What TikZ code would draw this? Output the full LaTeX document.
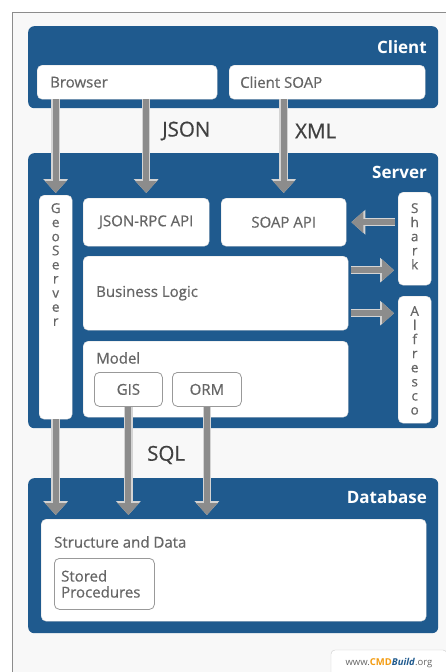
\documentclass[tikz,border=0pt]{standalone}
\usepackage{fontspec}
\setmainfont{Open Sans}
\newfontfamily\medfont{Open Sans}[FakeBold=0.6]
\usetikzlibrary{arrows.meta}
\definecolor{cblue}{HTML}{1F5A8E}
\definecolor{arrgray}{HTML}{8C8C8C}
\definecolor{arredge}{HTML}{D4D4D4}
\definecolor{txtgray}{HTML}{666666}
\definecolor{bggray}{HTML}{F8F8F8}
\definecolor{cmdorange}{HTML}{F39C12}
\begin{document}
\begin{tikzpicture}[x=1pt,y=-1pt,
 layer/.style={fill=cblue, rounded corners=6pt, anchor=north west, inner sep=0pt},
 wbox/.style={fill=white, draw=black!15, rounded corners=5pt, anchor=north west, inner sep=0pt},
 ibox/.style={fill=white, draw=black!40, line width=0.8pt, rounded corners=5pt, anchor=north west, inner sep=0pt},
 head/.style={text=white, font=\fontsize{17}{20}\selectfont\bfseries, anchor=east, inner sep=0pt},
 btxt/.style={text=txtgray, font=\medfont\fontsize{15}{16}\selectfont, inner sep=0pt},
 proto/.style={text=black!75, font=\medfont\fontsize{20.5}{22}\selectfont, anchor=west, inner sep=0pt},
 vtxt/.style={text=txtgray, font=\medfont\fontsize{13.5}{14.1}\selectfont, align=center, anchor=north, inner sep=0pt},
 flow/.style={draw=arrgray, line width=6pt, -{Triangle[width=21pt,length=12pt]},
   preaction={draw=arredge, line width=8.5pt, -{Triangle[width=24pt,length=14pt]}}},
]
\useasboundingbox (0,0) rectangle (445,672);
\fill[bggray] (12,12) rectangle (446,673);
\draw[black!45, line width=1pt] (12,673) -- (12,12) -- (446,12);

% Client layer
\node[layer, minimum width=410pt, minimum height=82pt] (client) at (28,26) {};
\node[head] (clientlbl) at (427,47) {Client};
\node[wbox, minimum width=180pt, minimum height=34pt] (browser) at (37,65) {};
\node[btxt, anchor=west] (browserlbl) at ([xshift=13pt]browser.west) {Browser};
\node[wbox, minimum width=196pt, minimum height=34pt] (csoap) at (229,65) {};
\node[btxt, anchor=west] (csoaplbl) at ([xshift=11pt]csoap.west) {Client SOAP};

% Server layer
\node[layer, minimum width=410pt, minimum height=275pt] (server) at (28,153) {};
\node[head] (serverlbl) at (427,172) {Server};
\node[wbox, minimum width=33pt, minimum height=224pt] (geo) at (39,195) {};
\node[vtxt] (geolbl) at ([yshift=-8pt]geo.north) {G\\e\\o\\S\\e\\r\\v\\e\\r};
\node[wbox, minimum width=126pt, minimum height=48pt, btxt] (json) at (83,198) {JSON-RPC API};
\node[wbox, minimum width=125pt, minimum height=48pt, btxt] (soap) at (221,198) {SOAP API};
\node[wbox, minimum width=33pt, minimum height=93pt] (shark) at (398,192) {};
\node[vtxt] (sharklbl) at ([yshift=-11pt]shark.north) {S\\h\\a\\r\\k};
\node[wbox, minimum width=33pt, minimum height=127pt] (alf) at (398,296) {};
\node[vtxt] (alflbl) at ([yshift=-10pt]alf.north) {A\\l\\f\\r\\e\\s\\c\\o};
\node[wbox, minimum width=265pt, minimum height=74pt] (bl) at (83,256) {};
\node[btxt, anchor=west] (bllbl) at ([xshift=13pt]bl.west) {Business Logic};
\node[wbox, minimum width=265pt, minimum height=76pt] (model) at (83,341) {};
\node[btxt, anchor=west] (modellbl) at (96,358) {Model};
\node[ibox, minimum width=68pt, minimum height=34pt, btxt] (gis) at (94,372) {GIS};
\node[ibox, minimum width=69pt, minimum height=34pt, btxt] (orm) at (172,372) {ORM};

% protocol labels
\node[proto] (jsonlbl) at (162,131) {JSON};
\node[proto] (xmllbl) at (295,131) {XML};
\node[proto] (sqllbl) at (147,455) {SQL};

% Database layer
\node[layer, minimum width=410pt, minimum height=155pt] (db) at (28,478) {};
\node[head] (dblbl) at (427,497) {Database};
\node[wbox, minimum width=385pt, minimum height=102pt] (sd) at (41,519) {};
\node[btxt, anchor=west] (sdlbl) at (54,542) {Structure and Data};
\node[ibox, minimum width=100pt, minimum height=51pt] (sp) at (54,558) {};
\node[btxt, anchor=west, align=left] (splbl) at ([xshift=7pt]sp.west) {\fontsize{15}{18}\selectfont Stored\\Procedures};

% arrows
\draw[flow] (browser.south -| geo.north) -- ([yshift=2pt]geo.north);
\draw[flow] (browser.south -| json.north) -- ([yshift=5pt]json.north);
\draw[flow] (csoap.south -| soap.north) -- ([yshift=5pt]soap.north);
\draw[flow] ([xshift=-3pt]shark.west |- soap.east) -- ([xshift=5pt]soap.east);
\draw[flow] ([xshift=3pt,yshift=23pt]bl.east) -- ([xshift=-4pt,yshift=23pt]shark.west |- bl.east);
\draw[flow] ([xshift=3pt,yshift=-20pt]bl.east) -- ([xshift=-4pt,yshift=-20pt]alf.west |- bl.east);
\draw[flow] (geo.south) -- ([yshift=4pt]sd.north -| geo.south);
\draw[flow] (gis.south) -- ([yshift=4pt]sd.north -| gis.south);
\draw[flow] (orm.south) -- ([yshift=4pt]sd.north -| orm.south);

% logo
\draw[black!20, fill=white, rounded corners=4pt] (331,674) -- (331,650) -- (447,650) -- (447,674);
\node[inner sep=0pt, font=\fontsize{9.5}{11}\selectfont] (logo) at (389,663)
 {\textcolor{black!60}{www.}\textcolor{cmdorange}{\textbf{CMD}}\textcolor{cblue}{\textbf{\itshape Build}}\textcolor{black!60}{.org}};
\end{tikzpicture}
\end{document}
